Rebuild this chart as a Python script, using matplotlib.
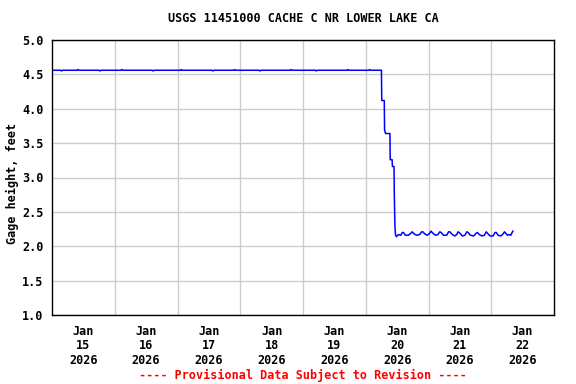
import matplotlib
matplotlib.use("Agg")
import matplotlib.pyplot as plt
import matplotlib.dates as mdates
import numpy as np
import pandas as pd

start = pd.Timestamp("2026-01-15 00:00")

# time in days after Jan 15 00:00, gage height in feet
days = [0.00, 0.14, 0.15, 0.17, 0.40, 0.41, 0.43, 0.75, 0.76, 0.78, 1.10, 1.11,
        1.13, 1.60, 1.61, 1.63, 2.05, 2.06, 2.08, 2.55, 2.56, 2.58, 2.90, 2.91,
        2.93, 3.30, 3.31, 3.33, 3.80, 3.81, 3.83, 4.20, 4.21, 4.23, 4.70, 4.71,
        4.73, 5.05, 5.06, 5.08, 5.25,
        5.255, 5.295, 5.30, 5.315, 5.385, 5.39, 5.42, 5.425, 5.45, 5.455, 5.465,
        5.475, 5.49,
        5.52, 5.56, 5.58, 5.60, 5.63, 5.68, 5.72, 5.74, 5.77, 5.81, 5.86, 5.89,
        5.91, 5.94, 5.98, 6.02, 6.04, 6.07, 6.11, 6.15, 6.18, 6.20, 6.24, 6.29,
        6.32, 6.34, 6.38, 6.42, 6.45, 6.47, 6.50, 6.54, 6.58, 6.61, 6.63, 6.67,
        6.72, 6.76, 6.78, 6.81, 6.85, 6.89, 6.92, 6.94, 6.98, 7.03, 7.06, 7.08,
        7.11, 7.15, 7.19, 7.21, 7.24, 7.26, 7.28, 7.31, 7.345]
height = [4.56, 4.56, 4.55, 4.56, 4.56, 4.57, 4.56, 4.56, 4.55, 4.56, 4.56, 4.57,
          4.56, 4.56, 4.55, 4.56, 4.56, 4.57, 4.56, 4.56, 4.55, 4.56, 4.56, 4.57,
          4.56, 4.56, 4.55, 4.56, 4.56, 4.57, 4.56, 4.56, 4.55, 4.56, 4.56, 4.57,
          4.56, 4.56, 4.57, 4.56, 4.56,
          4.12, 4.12, 3.69, 3.64, 3.64, 3.26, 3.26, 3.16, 3.16, 2.77, 2.28,
          2.16, 2.14,
          2.17, 2.16, 2.20, 2.20, 2.16, 2.16, 2.19, 2.21, 2.18, 2.16, 2.17, 2.21,
          2.21, 2.18, 2.16, 2.19, 2.22, 2.19, 2.16, 2.17, 2.21, 2.20, 2.16, 2.16,
          2.21, 2.21, 2.17, 2.15, 2.17, 2.21, 2.19, 2.15, 2.16, 2.21, 2.20, 2.16,
          2.15, 2.19, 2.20, 2.17, 2.15, 2.16, 2.21, 2.19, 2.15, 2.15, 2.20, 2.20,
          2.16, 2.15, 2.18, 2.21, 2.18, 2.16, 2.17, 2.16, 2.22]

day_labels = ["Jan\n15\n2026", "Jan\n16\n2026", "Jan\n17\n2026", "Jan\n18\n2026",
              "Jan\n19\n2026", "Jan\n20\n2026", "Jan\n21\n2026", "Jan\n22\n2026"]
y_ticks = [1.0, 1.5, 2.0, 2.5, 3.0, 3.5, 4.0, 4.5, 5.0]

times = start + pd.to_timedelta(days, unit="D")

font = {"family": "DejaVu Sans Mono", "weight": "bold", "size": 8.5}

fig = plt.figure(figsize=(5.76, 3.84), dpi=100)
ax = fig.add_axes([52/576, 69/384, 502/576, 275/384])
ax.plot(times, height, color="#0000ff", linewidth=1.1)

ax.set_xlim(start, start + pd.Timedelta(days=8))
ax.set_ylim(1.0, 5.0)

midnights = [start + pd.Timedelta(days=i) for i in range(1, 8)]
noons = [start + pd.Timedelta(days=i, hours=12) for i in range(8)]
ax.set_xticks(midnights)
ax.set_xticklabels([])
ax.set_xticks(noons, minor=True)
ax.set_xticklabels(day_labels, minor=True, fontdict=font, linespacing=1.15)
ax.tick_params(axis="x", which="both", length=0)
ax.tick_params(axis="x", which="minor", pad=7)

ax.set_yticks(y_ticks)
ax.set_yticklabels(["%.1f" % v for v in y_ticks], fontdict=font)
ax.tick_params(axis="y", length=0, pad=6)

ax.grid(True, which="major", color="#cccccc", linewidth=1.0)
ax.set_axisbelow(True)
for s in ax.spines.values():
    s.set_linewidth(1.0)
    s.set_color("black")

ax.set_ylabel("Gage height, feet", fontdict=font)
ax.yaxis.set_label_coords(-0.066, 0.48)
mid = (52 + 554) / 2 / 576
fig.text(mid, 1 - 19/384, "USGS 11451000 CACHE C NR LOWER LAKE CA",
         ha="center", va="center", **font)
fig.text(mid, 1 - 375/384, "---- Provisional Data Subject to Revision ----",
         ha="center", va="center", color="#ff0000", **font)

fig.savefig("out.png", dpi=100)
